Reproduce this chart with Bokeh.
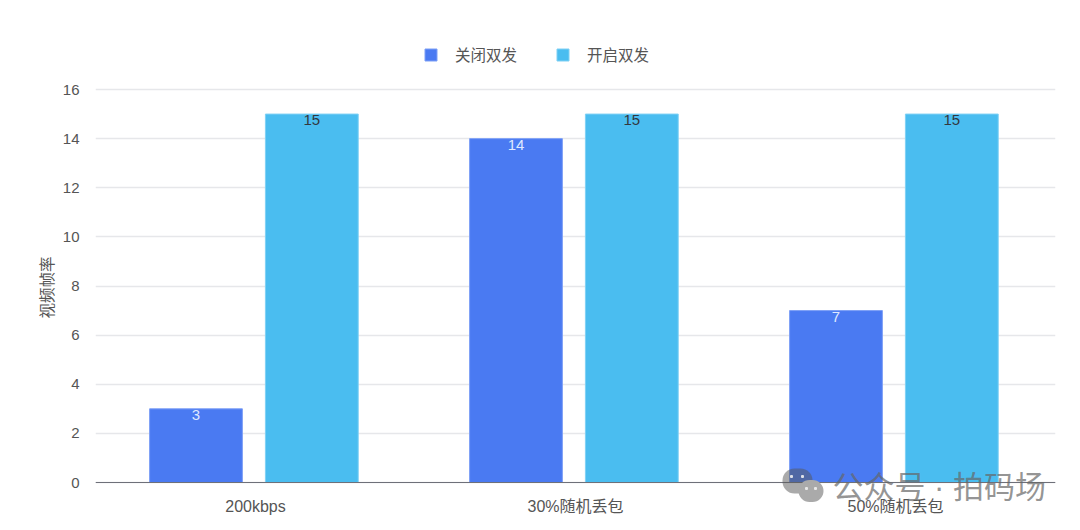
from bokeh.plotting import figure
from bokeh.models import (ColumnDataSource, FactorRange, Range1d, Legend, LegendItem, Label,
                          BoxAnnotation, FixedTicker, Title)
from bokeh.transform import dodge
from bokeh.core.properties import value
from bokeh.embed import file_html
from bokeh.resources import INLINE

categories = ["200kbps", "30%随机丢包", "50%随机丢包"]
off_values = [3, 14, 7]
on_values = [15, 15, 15]
off_name = "关闭双发"
on_name = "开启双发"
y_title = "视频帧率"
y_ticks = [0, 2, 4, 6, 8, 10, 12, 14, 16]
watermark = "公众号 · 拍码场"

FONT = "Liberation Sans, Noto Sans CJK SC, sans-serif"
BLUE = "#4a7af2"
CYAN = "#4abdf0"
TXT = "#555555"
W, H = 1064, 522
# y pixel of value 0 and of value 16, and the (larger) frame that holds the legend, x labels and watermark
Y0, Y16 = 482, 89
FL, FR, FT, FB = 95, 1055, 30, 518
PX = (Y0 - Y16) / 16

src = ColumnDataSource(dict(cat=categories, off=off_values, on=on_values,
                            off_t=[str(v) for v in off_values], on_t=[str(v) for v in on_values]))

p = figure(width=W, height=H, output_backend="svg", toolbar_location=None,
           x_range=FactorRange(*categories, range_padding=0, factor_padding=0, group_padding=0),
           y_range=Range1d(-(FB - Y0) / PX, 16 + (Y16 - FT) / PX))
p.x_range.range_padding = 0
p.min_border_left = FL
p.min_border_right = W - FR
p.min_border_top = FT
p.min_border_bottom = H - FB
p.outline_line_color = None
p.background_fill_color = "white"
p.border_fill_color = "white"

p.xgrid.visible = False
p.ygrid.grid_line_color = "#e6e7ea"
p.ygrid.grid_line_width = 1.5
p.ygrid.ticker = FixedTicker(ticks=y_ticks)

p.yaxis.ticker = FixedTicker(ticks=y_ticks)
p.yaxis.axis_line_color = None
p.yaxis.major_tick_line_color = None
p.yaxis.minor_tick_line_color = None
p.yaxis.major_label_text_font = FONT
p.yaxis.major_label_text_font_size = "15px"
p.yaxis.major_label_text_color = TXT
p.yaxis.major_label_standoff = 10

p.add_layout(Title(text=y_title, align="left", offset=FB - 318, standoff=7, text_font=FONT,
                   text_font_style="normal", text_font_size="15.5px", text_color=TXT), "left")

p.xaxis.fixed_location = 0
p.xaxis.axis_line_color = "#6e7079"
p.xaxis.axis_line_width = 1.2
p.xaxis.major_tick_line_color = None
p.xaxis.minor_tick_line_color = None
p.xaxis.major_label_text_font = FONT
p.xaxis.major_label_text_font_size = "16px"
p.xaxis.major_label_text_color = TXT
p.xaxis.major_label_standoff = 9
p.xaxis.major_label_orientation = "horizontal"

BW, OFF_L, OFF_R = 0.29, -0.186, 0.176
r1 = p.vbar(x=dodge("cat", OFF_L, range=p.x_range), top="off", width=BW, source=src,
            fill_color=BLUE, line_color="#7d9ff6", line_width=1)
r2 = p.vbar(x=dodge("cat", OFF_R, range=p.x_range), top="on", width=BW, source=src,
            fill_color=CYAN, line_color="#7fd0f4", line_width=1)

p.text(x=dodge("cat", OFF_L, range=p.x_range), y="off", text="off_t", source=src,
       text_align="center", text_baseline="top", y_offset=1, text_color="#dfe8ff",
       text_font=value(FONT), text_font_size="15px")
p.text(x=dodge("cat", OFF_R, range=p.x_range), y="on", text="on_t", source=src,
       text_align="center", text_baseline="top", y_offset=1, text_color="#33383f",
       text_font=value(FONT), text_font_size="15px")

legend = Legend(items=[LegendItem(label=off_name, renderers=[r1]), LegendItem(label=on_name, renderers=[r2])],
                orientation="horizontal", location=(328, 453),
                glyph_width=15, glyph_height=15, label_standoff=17, spacing=38,
                label_text_font=FONT, label_text_font_size="15.5px", label_text_color=TXT,
                border_line_color=None, background_fill_alpha=0, margin=0, padding=5)
p.add_layout(legend, "center")

# watermark
p.add_layout(Label(x=832 - FL, y=FB - 487, x_units="screen", y_units="screen", text=watermark,
                   text_font=FONT, text_font_size="31px", text_color="#666666", text_alpha=0.7,
                   text_baseline="middle"))
def bub(cx, cy, w, h, col, alpha):
    p.add_layout(BoxAnnotation(left=cx - w / 2 - FL, right=cx + w / 2 - FL,
                               top=FB - cy + h / 2, bottom=FB - cy - h / 2,
                               left_units="screen", right_units="screen",
                               top_units="screen", bottom_units="screen",
                               border_radius=int(min(w, h) // 2), fill_color=col, fill_alpha=alpha,
                               line_color=None))
bub(797, 480.5, 30, 25, "#555555", 0.5)
bub(810.5, 490.5, 25, 22, "#aaaaaa", 1.0)
for ex, ey in [(791, 476), (802, 476), (806, 488), (815, 488)]:
    bub(ex, ey, 3, 3, "#eeeeee", 0.9)

open("out.html", "w").write(file_html(p, INLINE))
